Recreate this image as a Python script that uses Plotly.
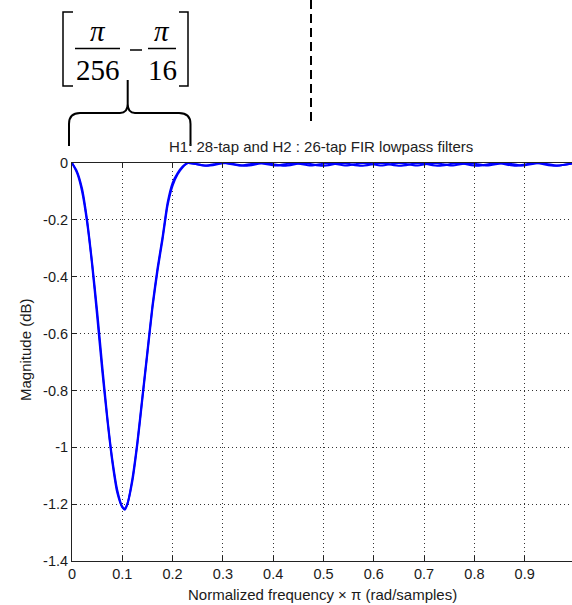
import plotly.graph_objects as go

# ---------------- data ----------------
h1_freq = [0, 0.01, 0.02, 0.03, 0.04, 0.05, 0.06, 0.07, 0.08, 0.09, 0.10, 0.105, 0.11,
           0.12, 0.13, 0.14, 0.15, 0.16, 0.17, 0.18, 0.19, 0.20, 0.21, 0.22, 0.23,
           0.265, 0.30, 0.335, 0.37, 0.405, 0.44, 0.475, 0.51, 0.545, 0.58, 0.615,
           0.65, 0.685, 0.72, 0.755, 0.79, 0.825, 0.86, 0.895, 0.93, 0.965, 1.0]
h1_mag = [0, -0.03, -0.09, -0.20, -0.35, -0.52, -0.71, -0.89, -1.04, -1.15, -1.21, -1.22, -1.20,
          -1.11, -0.98, -0.82, -0.66, -0.50, -0.37, -0.26, -0.14, -0.07, -0.035, -0.012, 0,
          -0.009, 0, -0.009, 0, -0.009, 0, -0.009, 0, -0.009, 0, -0.009,
          0, -0.009, 0, -0.009, 0, -0.009, 0, -0.009, 0, -0.009, 0]

h2_freq = [0, 0.01, 0.02, 0.03, 0.04, 0.05, 0.06, 0.07, 0.08, 0.09, 0.10, 0.105, 0.11,
           0.12, 0.13, 0.14, 0.15, 0.16, 0.17, 0.18, 0.19, 0.20, 0.21, 0.22, 0.23,
           0.268, 0.306, 0.345, 0.383, 0.422, 0.46, 0.498, 0.537, 0.575, 0.614,
           0.652, 0.69, 0.729, 0.767, 0.806, 0.844, 0.882, 0.92, 0.96, 1.0]
h2_mag = [0, -0.035, -0.10, -0.21, -0.36, -0.54, -0.73, -0.90, -1.05, -1.16, -1.21, -1.215, -1.20,
          -1.12, -0.99, -0.83, -0.67, -0.51, -0.38, -0.27, -0.15, -0.08, -0.04, -0.015, 0,
          -0.010, 0, -0.010, 0, -0.010, 0, -0.010, 0, -0.010, 0,
          -0.010, 0, -0.010, 0, -0.010, 0, -0.010, 0, -0.010, 0]

x_tickvals = [0, 0.1, 0.2, 0.3, 0.4, 0.5, 0.6, 0.7, 0.8, 0.9]
x_ticktext = ["0", "0.1", "0.2", "0.3", "0.4", "0.5", "0.6", "0.7", "0.8", "0.9"]
y_tickvals = [0, -0.2, -0.4, -0.6, -0.8, -1.0, -1.2, -1.4]
y_ticktext = ["0", "-0.2", "-0.4", "-0.6", "-0.8", "-1", "-1.2", "-1.4"]

title_text = "H1: 28-tap and H2 : 26-tap FIR lowpass filters"
xlabel_text = "Normalized frequency \u00d7 \u03c0 (rad/samples)"
ylabel_text = "Magnitude (dB)"

# ---------------- layout geometry ----------------
W, H = 572, 605
ML, MR, MT, MB = 72, 0, 163, 44
PW = W - ML - MR
PH = H - MT - MB


def px(xp):
    return (xp - ML) / PW


def py(yp):
    return (H - MB - yp) / PH


def path(cmds):
    out = []
    for c in cmds:
        if isinstance(c, str):
            out.append(c)
        else:
            out.append(f"{px(c[0]):.5f},{py(c[1]):.5f}")
    return " ".join(out)


BLUE = "#0000ff"
FONT = "Liberation Sans, Arial, sans-serif"
SERIF = "Liberation Serif, Times New Roman, serif"
TXT = "#1a1a1a"

fig = go.Figure()
fig.add_trace(go.Scatter(x=h1_freq, y=h1_mag, mode="lines", name="H1",
                         line=dict(color=BLUE, width=2, shape="spline", smoothing=0.6)))
fig.add_trace(go.Scatter(x=h2_freq, y=h2_mag, mode="lines", name="H2",
                         line=dict(color=BLUE, width=2, shape="spline", smoothing=0.6)))

fig.update_layout(
    width=W, height=H,
    margin=dict(l=ML, r=MR, t=MT, b=MB),
    paper_bgcolor="white", plot_bgcolor="white",
    showlegend=False,
    font=dict(family=FONT, size=14, color=TXT),
)

fig.update_xaxes(
    range=[0, PW / 503.0],
    tickvals=x_tickvals, ticktext=x_ticktext,
    ticks="inside", ticklen=5, tickcolor="#222", tickwidth=1,
    showline=True, linecolor="#222", linewidth=1, mirror="ticks",
    showgrid=True, gridcolor="#333", gridwidth=1, griddash="1px,3px",
    zeroline=False, tickfont=dict(family=FONT, size=14.5, color=TXT),
    automargin=False,
)
fig.update_yaxes(
    range=[-1.4, 0],
    tickvals=y_tickvals, ticktext=y_ticktext,
    ticks="inside", ticklen=5, tickcolor="#222", tickwidth=1,
    showline=True, linecolor="#222", linewidth=1, mirror=False,
    showgrid=True, gridcolor="#333", gridwidth=1, griddash="1px,3px",
    zeroline=False, tickfont=dict(family=FONT, size=14.5, color=TXT),
    automargin=False,
)

ann = []
ann.append(dict(x=px(321), y=py(146), xref="paper", yref="paper", text=title_text,
                showarrow=False, xanchor="center", yanchor="middle",
                font=dict(family=FONT, size=15, color="#222")))
ann.append(dict(x=px(322), y=py(594), xref="paper", yref="paper", text=xlabel_text,
                showarrow=False, xanchor="center", yanchor="middle",
                font=dict(family=FONT, size=15, color=TXT)))
ann.append(dict(x=px(25), y=py(350), xref="paper", yref="paper", text=ylabel_text,
                showarrow=False, xanchor="center", yanchor="middle", textangle=-90,
                font=dict(family=FONT, size=15, color=TXT)))

# fraction expression [pi/256 - pi/16]
for (tx, ty, t, it) in [(98, 31, "\u03c0", True), (97.5, 70, "256", False),
                        (162, 31, "\u03c0", True), (162, 70, "16", False)]:
    ann.append(dict(x=px(tx), y=py(ty), xref="paper", yref="paper",
                    text=f"<i>{t}</i>" if it else t, showarrow=False,
                    xanchor="center", yanchor="middle",
                    font=dict(family=SERIF, size=29, color="black")))
fig.update_layout(annotations=ann)

shapes = []
line_k = dict(color="black", width=1.5)
# fraction bars and minus
shapes.append(dict(type="line", xref="paper", yref="paper", x0=px(75), x1=px(120), y0=py(48.5), y1=py(48.5), line=line_k))
shapes.append(dict(type="line", xref="paper", yref="paper", x0=px(148), x1=px(176), y0=py(48.5), y1=py(48.5), line=line_k))
shapes.append(dict(type="line", xref="paper", yref="paper", x0=px(130), x1=px(142), y0=py(50), y1=py(50), line=line_k))
# square brackets
shapes.append(dict(type="path", xref="paper", yref="paper",
                   path=path(["M", (73, 12), "L", (63, 12), "L", (63, 86), "L", (73, 86)]), line=line_k))
shapes.append(dict(type="path", xref="paper", yref="paper",
                   path=path(["M", (179, 12), "L", (188, 12), "L", (188, 86), "L", (179, 86)]), line=line_k))
# curly brace
shapes.append(dict(type="path", xref="paper", yref="paper",
                   path=path(["M", (69, 146), "L", (69, 124), "Q", (69, 113), (80, 113),
                              "L", (120, 113), "Q", (127.7, 113), (127.7, 104), "L", (127.7, 80),
                              "M", (127.7, 104), "Q", (127.7, 113), (135, 113),
                              "L", (179, 113), "Q", (190.5, 113), (190.5, 124), "L", (190.5, 146)]),
                   line=dict(color="black", width=2)))
# dashed vertical marker
shapes.append(dict(type="line", xref="paper", yref="paper", x0=px(311), x1=px(311),
                   y0=py(0), y1=py(122), line=dict(color="black", width=2, dash="9px,5px")))
fig.update_layout(shapes=shapes)

fig.write_html("out.html", config={"displayModeBar": False},
               post_script="document.body.style.margin='0';document.body.style.overflow='hidden';")
